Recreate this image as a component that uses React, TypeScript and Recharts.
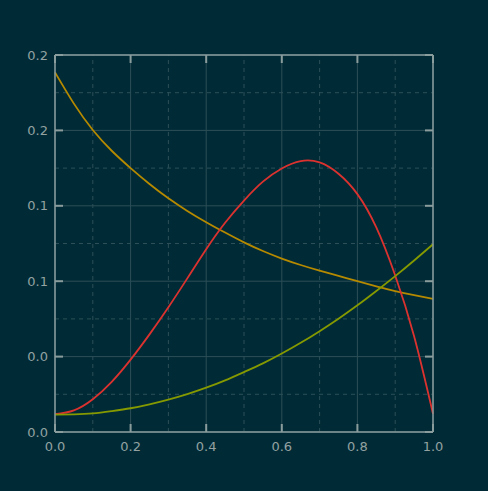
import React from 'react';
import { LineChart, Line, XAxis, YAxis, CartesianGrid, ReferenceLine } from 'recharts';

const xs = [0, 0.05, 0.1, 0.15, 0.2, 0.25, 0.3, 0.35, 0.4, 0.45, 0.5, 0.55, 0.6, 0.65, 0.7, 0.75, 0.8, 0.85, 0.9, 0.95, 1];
const orange = [0.1908, 0.1742, 0.1602, 0.1492, 0.14, 0.1316, 0.124, 0.1173, 0.1113, 0.1058, 0.1006, 0.096, 0.092, 0.0886, 0.0856, 0.0828, 0.08, 0.0773, 0.0748, 0.0726, 0.0706];
const red = [0.0095, 0.0115, 0.0174, 0.0266, 0.0384, 0.0518, 0.0662, 0.0815, 0.097, 0.111, 0.1228, 0.1328, 0.1398, 0.1437, 0.143, 0.137, 0.1262, 0.1085, 0.083, 0.0508, 0.0097];
const green = [0.0092, 0.0094, 0.0099, 0.0111, 0.0126, 0.0147, 0.0172, 0.0201, 0.0235, 0.0274, 0.0318, 0.0364, 0.0416, 0.0473, 0.0535, 0.0601, 0.0672, 0.0748, 0.0827, 0.091, 0.0996];

const xTicks = [0, 0.2, 0.4, 0.6, 0.8, 1];
const yTicks = [0, 0.04, 0.08, 0.12, 0.16, 0.2];
const xMinor = [0.1, 0.3, 0.5, 0.7, 0.9];
const yMinor = [0.02, 0.06, 0.1, 0.14, 0.18];

const BG = '#002b36';
const AXIS = '#8a9c9c';
const GRID = '#2c4f58';
const TEXT = '#93a1a1';

const data = xs.map((x, i) => ({ x, orange: orange[i], red: red[i], green: green[i] }));

const fmt = (v: number) => v.toFixed(1);
const blank = () => '';
const tickStyle = { fill: TEXT, fontSize: 13, fontFamily: 'DejaVu Sans' };

const App: React.FC = () => {
    return (
        <div style={{ width: 488, height: 491, background: BG }}>
            <style>{`body{margin:0;background:${BG}}`}</style>
            <LineChart width={488} height={491} data={data} margin={{ top: 54, right: 54, bottom: 29, left: 0 }}>
                <CartesianGrid xAxisId="b" yAxisId="l" stroke={GRID} strokeWidth={1} />
                {xMinor.map((v) => (
                    <ReferenceLine key={'vx' + v} x={v} xAxisId="b" yAxisId="l" stroke={GRID} strokeDasharray="4 4" />
                ))}
                {yMinor.map((v) => (
                    <ReferenceLine key={'hy' + v} y={v} xAxisId="b" yAxisId="l" stroke={GRID} strokeDasharray="4 4" />
                ))}
                <XAxis
                    xAxisId="b"
                    dataKey="x"
                    type="number"
                    domain={[0, 1]}
                    ticks={xTicks}
                    tickFormatter={fmt}
                    height={30}
                    tickSize={-8}
                    tickMargin={18}
                    tick={tickStyle}
                    axisLine={{ stroke: AXIS, strokeWidth: 1.5 }}
                    tickLine={{ stroke: AXIS, strokeWidth: 2 }}
                />
                <XAxis
                    xAxisId="t"
                    dataKey="x"
                    orientation="top"
                    type="number"
                    domain={[0, 1]}
                    ticks={xTicks}
                    tickFormatter={blank}
                    height={1}
                    tickSize={-8}
                    axisLine={{ stroke: AXIS, strokeWidth: 1.5 }}
                    tickLine={{ stroke: AXIS, strokeWidth: 2 }}
                />
                <YAxis
                    yAxisId="l"
                    type="number"
                    domain={[0, 0.2]}
                    ticks={yTicks}
                    tickFormatter={fmt}
                    width={55}
                    tickSize={-8}
                    tickMargin={15}
                    tick={tickStyle}
                    axisLine={{ stroke: AXIS, strokeWidth: 1.5 }}
                    tickLine={{ stroke: AXIS, strokeWidth: 2 }}
                />
                <YAxis
                    yAxisId="r"
                    orientation="right"
                    type="number"
                    domain={[0, 0.2]}
                    ticks={yTicks}
                    tickFormatter={blank}
                    width={1}
                    tickSize={-8}
                    axisLine={{ stroke: AXIS, strokeWidth: 1.5 }}
                    tickLine={{ stroke: AXIS, strokeWidth: 2 }}
                />
                <Line xAxisId="b" yAxisId="l" type="natural" dataKey="orange" stroke="#b58900" strokeWidth={1.8} dot={false} isAnimationActive={false} />
                <Line xAxisId="b" yAxisId="l" type="natural" dataKey="red" stroke="#dc322f" strokeWidth={1.8} dot={false} isAnimationActive={false} />
                <Line xAxisId="t" yAxisId="r" type="natural" dataKey="green" stroke="#859900" strokeWidth={1.8} dot={false} isAnimationActive={false} />
            </LineChart>
        </div>
    );
};

export default App;
